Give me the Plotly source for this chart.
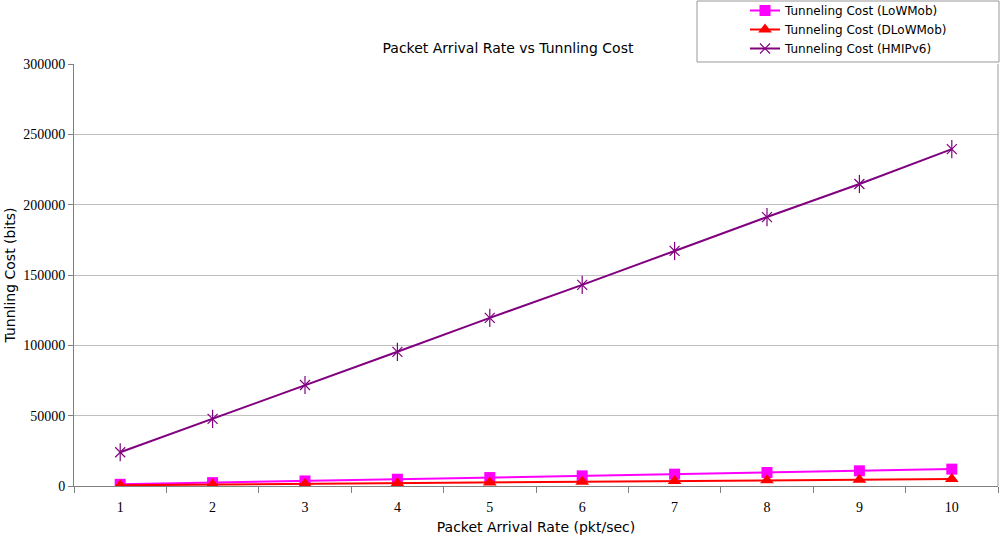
import plotly.graph_objects as go

rates = [1, 2, 3, 4, 5, 6, 7, 8, 9, 10]
lowmob = [1200, 2400, 3600, 4800, 6000, 7200, 8400, 9600, 10800, 12000]
dlowmob = [500, 1000, 1500, 2000, 2500, 3000, 3500, 4000, 4500, 5000]
hmipv6 = [24000, 47700, 71800, 95400, 119500, 143000, 167100, 191200, 214700, 239500]

fig = go.Figure()
fig.add_trace(go.Scatter(x=rates, y=lowmob, mode="lines+markers", name="Tunneling Cost (LoWMob)",
                         line=dict(color="#FF00FF", width=2),
                         marker=dict(symbol="square", size=11, color="#FF00FF")))
fig.add_trace(go.Scatter(x=rates, y=dlowmob, mode="lines+markers", name="Tunneling Cost (DLoWMob)",
                         line=dict(color="#FF0000", width=2),
                         marker=dict(symbol="triangle-up", size=12, color="#FF0000")))
fig.add_trace(go.Scatter(x=rates, y=hmipv6, mode="lines+markers", name="Tunneling Cost (HMIPv6)",
                         legendgroup="hm",
                         line=dict(color="#800080", width=2),
                         marker=dict(symbol="x-thin-open", size=10, color="#800080",
                                     line=dict(color="#800080", width=1.2))))
fig.add_trace(go.Scatter(x=rates, y=hmipv6, mode="markers", name="Tunneling Cost (HMIPv6)",
                         legendgroup="hm", showlegend=False, hoverinfo="skip",
                         marker=dict(symbol="line-ns-open", size=13, color="#800080",
                                     line=dict(color="#800080", width=1.2))))

W, H = 1000, 536
L, R, T, B = 74, 2, 64, 50
pw, ph = W - L - R, H - T - B

def px(x):
    return (x - L) / pw

def py(y):
    return (H - B - y) / ph

fig.update_layout(
    width=W, height=H,
    margin=dict(l=L, r=R, t=T, b=B, autoexpand=False),
    paper_bgcolor="white", plot_bgcolor="white",
    title=dict(text="Packet Arrival Rate vs Tunnling Cost", x=0.508, xanchor="center",
               y=1 - 48 / H, yanchor="middle",
               font=dict(family="DejaVu Sans", size=14, color="black")),
    font=dict(family="DejaVu Sans", size=14, color="black"),
    showlegend=True,
    legend=dict(x=px(745), xanchor="left", y=py(-4), yanchor="top",
                bgcolor="rgba(0,0,0,0)", borderwidth=0,
                font=dict(family="DejaVu Sans", size=12, color="black"),
                tracegroupgap=0, itemwidth=30),
    shapes=[
        dict(type="rect", xref="paper", yref="paper", x0=px(697), x1=px(999), y0=py(62), y1=py(1),
             line=dict(color="#999999", width=1), fillcolor="white", layer="below"),
        dict(type="line", xref="paper", yref="paper", x0=1, x1=1, y0=0, y1=1,
             line=dict(color="#999999", width=1)),
    ],
)
fig.update_xaxes(
    range=[0.5, 10.5], tickvals=rates, ticktext=[str(r) for r in rates],
    ticks="outside", ticklen=8, tickcolor="rgba(0,0,0,0)",
    showgrid=False, showline=True, linecolor="#808080", linewidth=1,
    tickfont=dict(family="Liberation Serif", size=14, color="black"),
    minor=dict(tick0=0.5, dtick=1, ticks="outside", ticklen=6, tickcolor="#808080", showgrid=False),
    title=dict(text="Packet Arrival Rate (pkt/sec)", standoff=8,
               font=dict(family="DejaVu Sans", size=14, color="black")),
    zeroline=False,
)
fig.update_yaxes(
    range=[0, 300000], dtick=50000, tickformat="d",
    showgrid=True, gridcolor="#C0C0C0", gridwidth=1,
    showline=True, linecolor="#808080", linewidth=1,
    ticks="outside", ticklen=5, tickcolor="#808080",
    tickfont=dict(family="Liberation Serif", size=14, color="black"),
    title=dict(text="Tunnling Cost (bits)", standoff=4,
               font=dict(family="DejaVu Sans", size=14, color="black")),
    zeroline=False,
)

fig.write_html("out.html", config={"displayModeBar": False},
               post_script="document.body.style.margin='0';")
